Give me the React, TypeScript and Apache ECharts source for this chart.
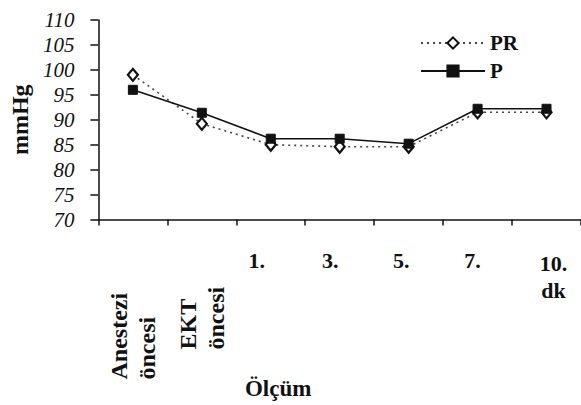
import React, { useEffect, useRef } from "react";
import * as echarts from "echarts";

const categories = ["Anestezi öncesi", "EKT öncesi", "1.", "3.", "5.", "7.", "10. dk"];
const prValues = [99.0, 89.2, 85.0, 84.6, 84.6, 91.5, 91.5];
const pValues = [96.0, 91.4, 86.2, 86.2, 85.2, 92.2, 92.2];
const yTicks = { min: 70, max: 110, interval: 5 };

const FONT = "Liberation Serif";

export default function App() {
  const ref = useRef<HTMLDivElement>(null);
  useEffect(() => {
    if (!ref.current) return;
    const chart = echarts.init(ref.current, null, { renderer: "svg" });
    const blankAxis = {
      axisLine: { show: false },
      axisTick: { show: false },
      splitLine: { show: false },
    };
    const base = { fontFamily: FONT, fontWeight: "bold" as const, fontSize: 22, color: "#111" };
    const richH = {
      c2: { ...base, padding: [0, 28, 0, 0] },
      c3: { ...base, padding: [0, 19, 0, 0] },
      c4: { ...base, padding: [0, 15, 0, 0] },
      c5: { ...base, padding: [0, 10, 0, 0] },
      c6: { ...base, padding: [0, 0, 0, 14], lineHeight: 27 },
    };
    chart.setOption({
      animation: false,
      backgroundColor: "#fff",
      textStyle: { fontFamily: FONT },
      grid: { left: 96, top: 20, width: 487, height: 199.5, containLabel: false },
      legend: {
        orient: "vertical",
        left: 415,
        top: 26,
        itemWidth: 64,
        itemHeight: 14,
        itemGap: 4,
        textStyle: { fontFamily: FONT, fontWeight: "bold", fontSize: 21, color: "#111", lineHeight: 24 },
        data: ["PR", "P"],
      },
      xAxis: [
        {
          type: "category",
          data: categories,
          boundaryGap: true,
          name: "Ölçüm",
          nameLocation: "middle",
          nameGap: 157,
          nameTextStyle: { fontFamily: FONT, fontWeight: "bold", fontSize: 23, color: "#111", padding: [0, 123, 0, 0] },
          axisLine: { lineStyle: { color: "#111", width: 1.5 } },
          axisTick: { show: true, length: 6, lineStyle: { color: "#111", width: 1.5 } },
          axisLabel: {
            interval: 0,
            margin: 30,
            fontFamily: FONT,
            fontWeight: "bold",
            fontSize: 22,
            formatter: (v: string, i: number) => {
              if (i < 2) return "";
              if (i === 6) return "{c6|10.}\n{c6|dk}";
              return "{c" + i + "|" + v + "}";
            },
            rich: richH,
          },
        },
        {
          type: "category",
          data: categories,
          boundaryGap: true,
          position: "bottom",
          ...blankAxis,
          axisLabel: {
            interval: 0,
            rotate: 90,
            align: "left",
            margin: 160,
            lineHeight: 28,
            padding: [18, 0, 0, 0],
            fontFamily: FONT,
            fontWeight: "bold",
            fontSize: 24,
            color: "#111",
            formatter: (v: string, i: number) => (i === 0 ? "Anestezi\nöncesi" : ""),
          },
        },
        {
          type: "category",
          data: categories,
          boundaryGap: true,
          position: "bottom",
          ...blankAxis,
          axisLabel: {
            interval: 0,
            rotate: 90,
            align: "left",
            margin: 130,
            lineHeight: 28,
            padding: [22, 0, 0, 0],
            fontFamily: FONT,
            fontWeight: "bold",
            fontSize: 24,
            color: "#111",
            formatter: (v: string, i: number) => (i === 1 ? "EKT\nöncesi" : ""),
          },
        },
      ],
      yAxis: {
        type: "value",
        min: yTicks.min,
        max: yTicks.max,
        interval: yTicks.interval,
        name: "mmHg",
        nameLocation: "middle",
        nameGap: 66,
        nameRotate: 90,
        nameTextStyle: { fontFamily: FONT, fontWeight: "bold", fontSize: 24, color: "#111" },
        axisLine: { show: true, lineStyle: { color: "#111", width: 1.5 } },
        axisTick: { show: true, length: 8, lineStyle: { color: "#111", width: 1.5 } },
        splitLine: { show: false },
        axisLabel: {
          margin: 24,
          fontFamily: FONT,
          fontStyle: "italic",
          fontWeight: "normal",
          fontSize: 21,
          color: "#111",
          formatter: (v: number) => "{i|" + v + "}",
          rich: { i: { fontFamily: FONT, fontStyle: "italic", fontWeight: "normal", fontSize: 21, color: "#111" } },
        },
      },
      series: [
        {
          name: "PR",
          type: "line",
          xAxisIndex: 0,
          data: prValues,
          symbol: "diamond",
          symbolSize: [10, 12],
          lineStyle: { color: "#444", width: 1.6, type: [2, 4] },
          itemStyle: { color: "#fff", borderColor: "#111", borderWidth: 2.2 },
          z: 2,
        },
        {
          name: "P",
          type: "line",
          xAxisIndex: 0,
          data: pValues,
          symbol: "rect",
          symbolSize: 9,
          lineStyle: { color: "#111", width: 1.5, type: "solid" },
          itemStyle: { color: "#111", borderColor: "#111", borderWidth: 1 },
          z: 3,
        },
      ],
    });
    return () => chart.dispose();
  }, []);
  return (
    <div
      ref={ref}
      style={{ position: "absolute", left: 0, top: 0, width: 581, height: 405 }}
    />
  );
}
